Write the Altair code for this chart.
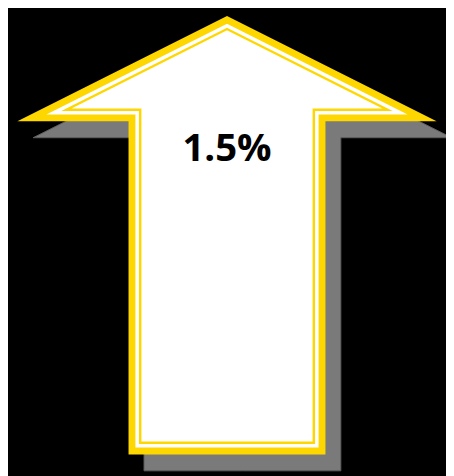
import altair as alt
import pandas as pd

# Arrow outline (reference pixel space, y grows downward)
arrow_x = [227, 444, 329, 329, 125, 125, 10]
arrow_y = [4, 113, 113, 458, 458, 113, 113]
shadow_dx, shadow_dy = 16, 17
value_label = ["1.5%"]
label_x = [227]
label_y = [154]

W, H = 446, 468
XD, YD = 454, 476


def inset(xs, ys, d):
    n = len(xs)
    lines = []
    for i in range(n):
        x0, y0 = xs[i], ys[i]
        x1, y1 = xs[(i + 1) % n], ys[(i + 1) % n]
        dx, dy = x1 - x0, y1 - y0
        L = (dx * dx + dy * dy) ** 0.5
        nx, ny = -dy / L, dx / L
        lines.append(((x0 + nx * d, y0 + ny * d), (dx, dy)))
    ox, oy = [], []
    for j in range(n):
        (a1, d1) = lines[j - 1]
        (a2, d2) = lines[j]
        cr = d1[0] * d2[1] - d1[1] * d2[0]
        t = ((a2[0] - a1[0]) * d2[1] - (a2[1] - a1[1]) * d2[0]) / cr
        ox.append(a1[0] + t * d1[0])
        oy.append(a1[1] + t * d1[1])
    return ox, oy


def closed(xs, ys, name, k=3):
    # start and end the path in the middle of a straight edge so every corner is a proper join
    n = len(xs)
    mx = (xs[k] + xs[(k + 1) % n]) / 2
    my = (ys[k] + ys[(k + 1) % n]) / 2
    seq = [(mx, my)]
    for i in range(1, n + 1):
        j = (k + i) % n
        seq.append((xs[j], ys[j]))
    seq.append((mx, my))
    return pd.DataFrame([{"x": x, "y": y, "o": i, "shape": name} for i, (x, y) in enumerate(seq)])


shadow = closed([x + shadow_dx for x in arrow_x], [y + shadow_dy for y in arrow_y], "shadow")
thick = closed(*inset(arrow_x, arrow_y, 3.5), "thick")
thin = closed(*inset(arrow_x, arrow_y, 12), "thin")

xs = alt.Scale(domain=[0, XD], nice=False, zero=False)
ys = alt.Scale(domain=[0, YD], nice=False, zero=False, reverse=True)


def enc(ch):
    return ch.encode(
        x=alt.X("x:Q", scale=xs, axis=None),
        y=alt.Y("y:Q", scale=ys, axis=None),
        order="o:Q",
    )


shadow_l = enc(alt.Chart(shadow).mark_line(fill="#7a7a7a", stroke="#5e5e5e", strokeWidth=1, strokeJoin="miter"))
thick_l = enc(alt.Chart(thick).mark_line(fill="#ffffff", stroke="#FFD700", strokeWidth=7, strokeJoin="miter", strokeMiterLimit=20))
thin_l = enc(alt.Chart(thin).mark_line(stroke="#FFD700", strokeWidth=2.5, strokeJoin="miter", strokeMiterLimit=20))

txt = alt.Chart(pd.DataFrame({"label": value_label, "x": label_x, "y": label_y})).mark_text(
    font="Open Sans", fontWeight="bold", fontSize=39, color="#000000", baseline="alphabetic", align="center"
).encode(
    x=alt.X("x:Q", scale=xs, axis=None),
    y=alt.Y("y:Q", scale=ys, axis=None),
    text="label:N",
)

chart = alt.layer(shadow_l, thick_l, thin_l, txt).properties(
    width=W, height=H, background="#000000", padding=0,
    autosize=alt.AutoSizeParams(type="none"),
).configure_view(stroke=None)

chart.save("out.html", embed_options={"renderer": "svg", "actions": False})
